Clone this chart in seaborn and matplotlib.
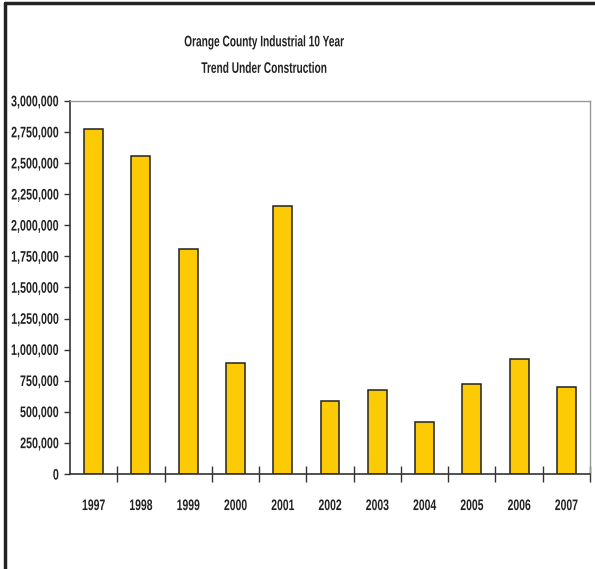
import numpy as np
import pandas as pd
import seaborn as sns
from matplotlib import pyplot as plt
from matplotlib.lines import Line2D
from matplotlib.patheffects import AbstractPathEffect
from matplotlib.transforms import Affine2D
from matplotlib.ticker import FuncFormatter, MultipleLocator

# data
years = ["1997", "1998", "1999", "2000", "2001", "2002", "2003", "2004", "2005", "2006", "2007"]
sq_ft = [2772000, 2556000, 1810000, 896000, 2155000, 591000, 679000, 415000, 727000, 928000, 703000]

df = pd.DataFrame({"year": years, "sq_ft": sq_ft})


# no narrow font installed: draw the text small and stretch it up,
# so it looks like a condensed face (and keeps a narrow bounding box)
class Tall(AbstractPathEffect):
    def __init__(self, factor):
        super().__init__()
        self.factor = factor

    def draw_path(self, renderer, gc, tpath, affine, rgbFace=None):
        ext = tpath.get_extents(affine)
        y0 = (ext.y0 + ext.y1) / 2
        affine = affine + Affine2D().translate(0, -y0).scale(1, self.factor).translate(0, y0)
        renderer.draw_path(gc, tpath, affine, rgbFace)


sns.set_theme(style="white")
plt.rcParams['font.family'] = ['Liberation Sans', 'DejaVu Sans']

fig = plt.figure(figsize=(5.95, 5.69), dpi=100)
ax = fig.add_axes([70 / 595, 1 - 474 / 569, 520 / 595, 373 / 569])

sns.barplot(data=df, x="year", y="sq_ft", color="#FCCB05", edgecolor="#222222",
            linewidth=1.1, width=0.4, saturation=1, ax=ax)

ax.set_xlim(-0.5, len(years) - 0.5)
ax.set_ylim(0, 3000000)
ax.yaxis.set_major_locator(MultipleLocator(250000))
ax.yaxis.set_major_formatter(FuncFormatter(lambda v, p: f"{int(v):,}"))
ax.set_xlabel("")
ax.set_ylabel("")

# tick marks between categories, labels under the bars
ax.set_xticks(np.arange(len(years)) + 0.5, minor=True)
ax.tick_params(axis="x", which="major", length=0, pad=19, labelsize=7.5)
ax.tick_params(axis="x", which="minor", bottom=True, direction="inout", length=11, width=1, color="#333333")
ax.tick_params(axis="y", left=True, direction="out", length=4, width=1, color="#333333", pad=4, labelsize=7.7)
for lab in ax.get_xticklabels():
    lab.set_fontweight("bold")
    lab.set_color("#222222")
    lab.set_path_effects([Tall(11 / 7.5)])
for lab in ax.get_yticklabels():
    lab.set_fontweight("bold")
    lab.set_color("#222222")
    lab.set_path_effects([Tall(11 / 7.7)])

for side in ["left", "bottom"]:
    ax.spines[side].set_color("#333333")
    ax.spines[side].set_linewidth(1.2)
for side in ["top", "right"]:
    ax.spines[side].set_color("#999999")
    ax.spines[side].set_linewidth(1)

for txt, ypix in [("Orange County Industrial 10 Year", 42), ("Trend Under Construction", 68)]:
    fig.text(264 / 595, 1 - ypix / 569, txt, ha="center", va="center", fontsize=7.3,
             fontweight="bold", color="#222222", path_effects=[Tall(11 / 7.3)])

# outer frame
fig.add_artist(Line2D([5 / 595, 5 / 595], [0, 1 - 3 / 569], color="#222222", linewidth=2.5))
fig.add_artist(Line2D([5 / 595, 1], [1 - 3 / 569, 1 - 3 / 569], color="#222222", linewidth=2.5))

fig.savefig("out.png", dpi=100)
